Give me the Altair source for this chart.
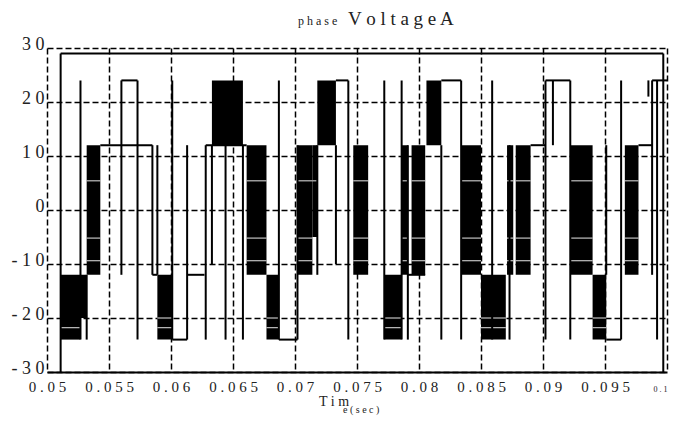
import altair as alt
import pandas as pd

# ---------------- data (time in s, voltage) ----------------
# dense switching regions drawn as solid black blocks
block_t0 = [0.0511, 0.0511, 0.0532, 0.0589, 0.0633, 0.0661, 0.0677, 0.0702, 0.0714, 0.0718,
            0.0747, 0.0772, 0.0786, 0.0794, 0.0806, 0.0834, 0.0850, 0.0871, 0.0878, 0.0922,
            0.0940, 0.0966]
block_t1 = [0.0532, 0.0527, 0.0543, 0.0601, 0.0658, 0.0677, 0.0687, 0.0714, 0.0718, 0.0733,
            0.0759, 0.0786, 0.0791, 0.0805, 0.0818, 0.0850, 0.0870, 0.0876, 0.0890, 0.0940,
            0.0951, 0.0977]
block_lo = [-20, -24, -12, -24, 12, -12, -24, -12, -5, 12,
            -12, -24, -12, -12, 12, -12, -24, -12, -12, -12,
            -24, -12]
block_hi = [-12, -20, 12, -12, 24, 12, -12, 12, 12, 24,
            12, -12, 12, 12, 24, 12, -12, 12, 12, 12,
            -12, 12]

# single switching edges (vertical segments)
vert_t = [0.0511, 0.0527, 0.0532, 0.0560, 0.0573, 0.0585, 0.0589, 0.0601, 0.0613, 0.0628,
          0.0633, 0.0644, 0.0658, 0.0687, 0.0702, 0.0718, 0.0733, 0.0743, 0.0772, 0.0786,
          0.0791, 0.0818, 0.0834, 0.0859, 0.0873, 0.0902, 0.0908, 0.0922, 0.0951, 0.0963,
          0.0985, 0.0988, 0.0992, 0.0997]
vert_lo = [-30, -24, -24, -12, -24, -12, -12, -24, -24, -24,
           -10, -24, -24, -24, -24, -12, -10, -24, -24, -24,
           -24, -24, -24, -24, -24, -24, 12, -24, -12, -24,
           21, -12, -24, -30]
vert_hi = [29, 24, -12, 24, 24, 12, 12, 24, 12, 12,
           12, 12, 12, 24, 12, 12, 12, 24, 24, 24,
           12, 12, 24, 24, 12, 24, 24, 24, 12, 24,
           24, 24, 24, 29]

# flat levels (horizontal segments)
horiz_t0 = [0.0511, 0.0543, 0.0560, 0.0585, 0.0601, 0.0613, 0.0628, 0.0687, 0.0733, 0.0791,
            0.0818, 0.0890, 0.0902, 0.0951, 0.0977, 0.0988]
horiz_t1 = [0.0997, 0.0585, 0.0573, 0.0589, 0.0613, 0.0627, 0.0661, 0.0702, 0.0743, 0.0805,
            0.0834, 0.0902, 0.0922, 0.0963, 0.0988, 0.1000]
horiz_v = [29, 12, 24, -12, -24, -12, 12, -24, 24, -12,
           24, 12, 24, -24, 12, 24]

# thin light streaks visible inside the black blocks
streak_levels = [5.4, -5.2, -9.4, -20, -21.8]

x_ticks = [0.05, 0.055, 0.06, 0.065, 0.07, 0.075, 0.08, 0.085, 0.09, 0.095, 0.1]
y_ticks = [-30, -20, -10, 0, 10, 20, 30]

title_small = "p h a s e"
title_big = "V o l t a g e A"
xtitle_big = "T i m"
xtitle_small = "e ( s e c )"

# ---------------- tables ----------------
blocks = pd.DataFrame({"t0": block_t0, "t1": block_t1, "lo": block_lo, "hi": block_hi})
verts = pd.DataFrame({"t": vert_t, "lo": vert_lo, "hi": vert_hi})
horiz = pd.DataFrame({"t0": horiz_t0, "t1": horiz_t1, "v": horiz_v})
streaks = blocks.merge(pd.DataFrame({"v": streak_levels}), how="cross")
streaks = streaks[(streaks["v"] > streaks["lo"]) & (streaks["v"] < streaks["hi"])
                  & (streaks["lo"] < 0)]

FONT = "Liberation Serif"
xs = alt.Scale(domain=[0.05, 0.1], nice=False, zero=False)
ys = alt.Scale(domain=[-30, 30], nice=False, zero=False)
dash = [6, 3]

x_axis = alt.Axis(values=x_ticks, format=".3~f",
                  labelExpr="join(split(datum.label, ''), ' ')",
                  grid=True, gridDash=dash, gridColor="#000", gridWidth=1.5,
                  domain=True, domainColor="#000", domainWidth=2,
                  ticks=False, labelFont=FONT,
                  labelFontSize={"condition": {"test": "datum.value >= 0.0999", "value": 8},
                                 "value": 15},
                  labelAlign={"condition": {"test": "datum.value >= 0.0999", "value": "right"},
                              "value": "center"},
                  labelColor="#222", labelBaseline="alphabetic",
                  labelPadding=19, title=None, labelFlush=False)
y_axis = alt.Axis(values=y_ticks, format="d",
                  labelExpr="join(split(replace(datum.label, '\u2212', '-'), ''), ' ')",
                  grid=True, gridDash=dash, gridColor="#000", gridWidth=1.5,
                  domain=False, ticks=False, labelFont=FONT, labelFontSize=18,
                  labelColor="#222", labelPadding=3, labelOffset=-4,
                  title=None, labelFlush=False)

rects = alt.Chart(blocks).mark_rect(color="black").encode(
    x=alt.X("t0:Q", scale=xs, axis=x_axis), x2="t1",
    y=alt.Y("lo:Q", scale=ys, axis=y_axis), y2="hi")

streak_layer = alt.Chart(streaks).mark_rule(color="#e8e8e8", strokeWidth=1).encode(
    x=alt.X("t0:Q", scale=xs, axis=x_axis), x2="t1",
    y=alt.Y("v:Q", scale=ys, axis=y_axis))

vert_layer = alt.Chart(verts).mark_rule(color="black", strokeWidth=2).encode(
    x=alt.X("t:Q", scale=xs, axis=x_axis),
    y=alt.Y("lo:Q", scale=ys, axis=y_axis), y2="hi")

horiz_layer = alt.Chart(horiz).mark_rule(color="black", strokeWidth=2).encode(
    x=alt.X("t0:Q", scale=xs, axis=x_axis), x2="t1",
    y=alt.Y("v:Q", scale=ys, axis=y_axis))

def label(txt, px, py, size):
    return alt.Chart(pd.DataFrame({"s": [txt]})).mark_text(
        align="left", baseline="alphabetic", font=FONT, fontSize=size, color="#222"
    ).encode(text="s:N", x=alt.value(px), y=alt.value(py))

chart = alt.layer(
    rects, streak_layer, vert_layer, horiz_layer,
    label(title_small, 251, -23, 12),
    label(title_big, 301, -23, 19),
    label(xtitle_big, 272, 358, 14),
    label(xtitle_small, 296, 365, 10),
).properties(
    width=620, height=324,
    autosize=alt.AutoSizeParams(type="none"),
    padding={"left": 39, "top": 40, "right": 2, "bottom": 45},
).configure_view(stroke=None)

chart.save("out.html", embed_options={"renderer": "svg", "actions": False})
